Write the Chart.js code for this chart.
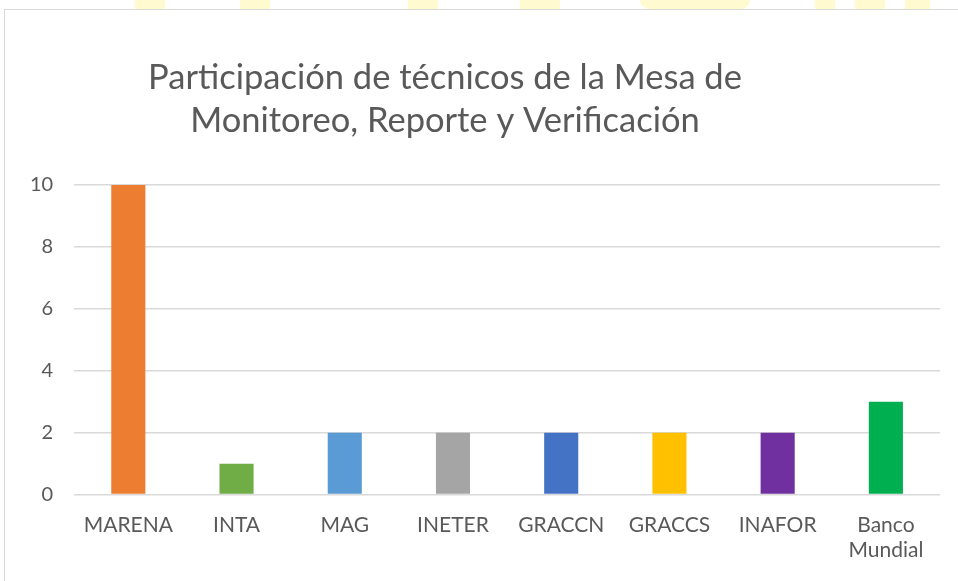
<!DOCTYPE html>
<html>
<head>
<meta charset="utf-8">
<script src="https://cdn.jsdelivr.net/npm/chart.js@4/dist/chart.umd.min.js"></script>
<style>
  html, body { margin: 0; padding: 0; background: #fff; }
  #wrap { position: relative; width: 958px; height: 581px; overflow: hidden; }
  #frame { position: absolute; left: 4px; top: 9px; width: 1000px; height: 600px; border: 1px solid #d9d9d9; box-sizing: border-box; }
  .wm { position: absolute; top: 0; height: 9px; background: #fffad0; }
  canvas { position: absolute; left: 0; top: 0; }
</style>
</head>
<body>
<div id="wrap">
  <!-- faint watermark fragments above the frame -->
  <div class="wm" style="left:135px;width:30px;"></div>
  <div class="wm" style="left:240px;width:30px;"></div>
  <div class="wm" style="left:408px;width:30px;"></div>
  <div class="wm" style="left:520px;width:40px;"></div>
  <div class="wm" style="left:640px;width:110px;border-radius:0 0 40px 40px"></div>
  <div class="wm" style="left:815px;width:20px;"></div>
  <div class="wm" style="left:855px;width:30px;"></div>
  <div class="wm" style="left:905px;width:25px;"></div>
  <div id="frame"></div>
  <canvas id="chart" width="958" height="581"></canvas>
</div>
<script>
// ---------------- Data ----------------
const categories = ["MARENA", "INTA", "MAG", "INETER", "GRACCN", "GRACCS", "INAFOR", ["Banco", "Mundial"]];
const values = [10, 1, 2, 2, 2, 2, 2, 3];
const barColors = ["#ed7d31", "#70ad47", "#5b9bd5", "#a5a5a5", "#4472c4", "#ffc000", "#7030a0", "#00b050"];
const titleLines = ["Participación de técnicos de la Mesa de", "Monitoreo, Reporte y Verificación"];
const FONT = "Lato, 'Open Sans', sans-serif";

// title drawn centred over the plot the way the source sheet has it
const titlePlugin = {
  id: "sheetTitle",
  afterDraw(chart) {
    const ctx = chart.ctx;
    ctx.save();
    ctx.fillStyle = "#595959";
    ctx.font = "34.5px " + FONT;
    ctx.textAlign = "center";
    ctx.textBaseline = "middle";
    ctx.fillText(titleLines[0], 445, 78);
    ctx.fillText(titleLines[1], 445, 121);
    ctx.restore();
  }
};

new Chart(document.getElementById("chart"), {
  type: "bar",
  data: {
    labels: categories,
    datasets: [{ data: values, backgroundColor: barColors, borderWidth: 0 }]
  },
  options: {
    responsive: false,
    animation: false,
    layout: { padding: { top: 185, right: 18, bottom: 8, left: 9 } },
    categoryPercentage: 1,
    barPercentage: 0.315,
    scales: {
      x: {
        grid: { display: false },
        border: { display: false },
        ticks: { color: "#595959", font: { family: FONT, size: 21, lineHeight: 1.2 }, maxRotation: 0, autoSkip: false, padding: 10 }
      },
      y: {
        min: 0, max: 10,
        ticks: { stepSize: 2, color: "#595959", font: { family: FONT, size: 20 }, padding: 21 },
        grid: { color: "#d9d9d9", lineWidth: 1.5, drawTicks: false },
        border: { display: false }
      }
    },
    plugins: { legend: { display: false }, tooltip: { enabled: false } }
  },
  plugins: [titlePlugin]
});
</script>
</body>
</html>
